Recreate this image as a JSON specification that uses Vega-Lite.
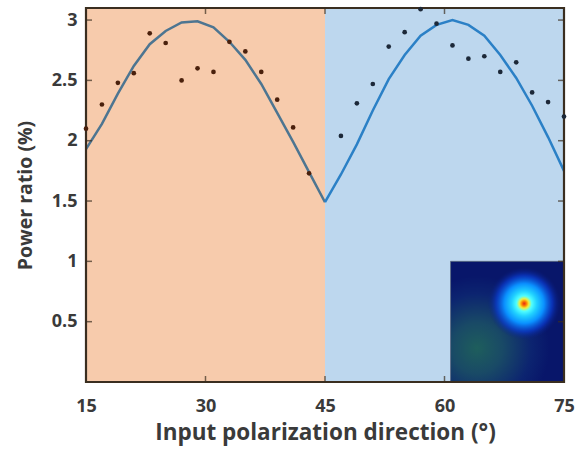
{
  "$schema": "https://vega.github.io/schema/vega-lite/v6.json",
  "width": 478,
  "height": 374,
  "autosize": {"type": "none"},
  "padding": {"left": 86, "top": 8, "right": 13, "bottom": 68},
  "background": "white",
  "config": {
    "view": {"stroke": null},
    "font": "Open Sans",
    "axis": {
      "labelFont": "Open Sans", "labelFontWeight": "bold", "labelFontSize": 18, "labelColor": "#3a3a3a",
      "titleFont": "Open Sans", "titleFontWeight": "bold", "titleFontSize": 19, "titleColor": "#3a3a3a",
      "domain": false, "ticks": false, "grid": false, "labelFlush": false, "labelOverlap": false
    }
  },
  "datasets": {
    "panels": [
      {"x1": 15, "x2": 45, "side": "A"},
      {"x1": 45, "x2": 75, "side": "B"}
    ],
    "fitA": [
      {"deg": 15, "val": 1.93}, {"deg": 17, "val": 2.14}, {"deg": 19, "val": 2.39}, {"deg": 21, "val": 2.62},
      {"deg": 23, "val": 2.80}, {"deg": 25, "val": 2.91}, {"deg": 27, "val": 2.98}, {"deg": 29, "val": 2.99},
      {"deg": 31, "val": 2.94}, {"deg": 33, "val": 2.82}, {"deg": 35, "val": 2.67}, {"deg": 37, "val": 2.47},
      {"deg": 39, "val": 2.23}, {"deg": 41, "val": 1.99}, {"deg": 43, "val": 1.74}, {"deg": 45, "val": 1.49}
    ],
    "fitB": [
      {"deg": 45, "val": 1.49}, {"deg": 47, "val": 1.72}, {"deg": 49, "val": 1.97}, {"deg": 51, "val": 2.25},
      {"deg": 53, "val": 2.51}, {"deg": 55, "val": 2.71}, {"deg": 57, "val": 2.87}, {"deg": 59, "val": 2.96},
      {"deg": 61, "val": 3.00}, {"deg": 63, "val": 2.96}, {"deg": 65, "val": 2.87}, {"deg": 67, "val": 2.71},
      {"deg": 69, "val": 2.52}, {"deg": 71, "val": 2.29}, {"deg": 73, "val": 2.03}, {"deg": 75, "val": 1.75}
    ],
    "dotsA": [
      {"deg": 15, "val": 2.10}, {"deg": 17, "val": 2.30}, {"deg": 19, "val": 2.48}, {"deg": 21, "val": 2.56},
      {"deg": 23, "val": 2.89}, {"deg": 25, "val": 2.81}, {"deg": 27, "val": 2.50}, {"deg": 29, "val": 2.60},
      {"deg": 31, "val": 2.57}, {"deg": 33, "val": 2.82}, {"deg": 35, "val": 2.74}, {"deg": 37, "val": 2.57},
      {"deg": 39, "val": 2.34}, {"deg": 41, "val": 2.11}, {"deg": 43, "val": 1.73}
    ],
    "dotsB": [
      {"deg": 47, "val": 2.04}, {"deg": 49, "val": 2.31}, {"deg": 51, "val": 2.47}, {"deg": 53, "val": 2.78},
      {"deg": 55, "val": 2.90}, {"deg": 57, "val": 3.09}, {"deg": 59, "val": 2.97}, {"deg": 61, "val": 2.79},
      {"deg": 63, "val": 2.68}, {"deg": 65, "val": 2.70}, {"deg": 67, "val": 2.57}, {"deg": 69, "val": 2.65},
      {"deg": 71, "val": 2.40}, {"deg": 73, "val": 2.32}, {"deg": 75, "val": 2.20}
    ],
    "inset": [
      {"x1": 60.76, "x2": 75, "y1": 0, "y2": 1.0}
    ],
    "frame": [
      {"x1": 15, "x2": 75, "y1": 0, "y2": 3.1}
    ],
    "xticks": [{"deg": 30}, {"deg": 45}, {"deg": 60}],
    "yticks": [{"val": 0.5}, {"val": 1}, {"val": 1.5}, {"val": 2}, {"val": 2.5}, {"val": 3}]
  },
  "layer": [
    {
      "data": {"name": "panels"},
      "mark": {"type": "rect"},
      "encoding": {
        "x": {"field": "x1", "type": "quantitative", "scale": {"domain": [15, 75], "nice": false, "zero": false},
              "axis": {"orient": "bottom", "values": [15, 30, 45, 60, 75], "title": "Input polarization direction (°)", "titleFontSize": 22.5, "labelPadding": 15, "titlePadding": 6}},
        "x2": {"field": "x2"},
        "y": {"datum": 0, "type": "quantitative", "scale": {"domain": [0, 3.1], "nice": false},
              "axis": {"orient": "left", "values": [0.5, 1, 1.5, 2, 2.5, 3], "format": "~g", "title": "Power ratio (%)", "titleFontSize": 19.5, "labelPadding": 9, "titlePadding": 16}},
        "y2": {"datum": 3.1},
        "color": {"field": "side", "type": "nominal", "scale": {"domain": ["A", "B"], "range": ["#f7cbac", "#bdd7ee"]}, "legend": null}
      }
    },
    {
      "data": {"name": "inset"},
      "mark": {"type": "rect", "stroke": "#5a6a80", "strokeWidth": 0.8,
        "fill": {"gradient": "radial", "x1": 0.25, "y1": 0.72, "r1": 0, "x2": 0.25, "y2": 0.72, "r2": 0.6,
          "stops": [{"offset": 0, "color": "#1e5e5c"}, {"offset": 0.35, "color": "#194a66"}, {"offset": 0.75, "color": "#0c2470"}, {"offset": 1, "color": "#08166a"}]}},
      "encoding": {
        "x": {"field": "x1", "type": "quantitative"},
        "x2": {"field": "x2"},
        "y": {"field": "y1", "type": "quantitative"},
        "y2": {"field": "y2"}
      }
    },
    {
      "data": {"name": "inset"},
      "mark": {"type": "rect",
        "fill": {"gradient": "radial", "x1": 0.64, "y1": 0.35, "r1": 0, "x2": 0.64, "y2": 0.35, "r2": 0.3,
          "stops": [{"offset": 0, "color": "#e0201a"}, {"offset": 0.07, "color": "#ff8a00"}, {"offset": 0.13, "color": "#f0f040"}, {"offset": 0.21, "color": "#50ffff"}, {"offset": 0.35, "color": "#20d0ff"}, {"offset": 0.55, "color": "#0a90ff"}, {"offset": 0.78, "color": "rgba(10,60,210,0.7)"}, {"offset": 1, "color": "rgba(10,30,130,0)"}]}},
      "encoding": {
        "x": {"field": "x1", "type": "quantitative"},
        "x2": {"field": "x2"},
        "y": {"field": "y1", "type": "quantitative"},
        "y2": {"field": "y2"}
      }
    },
    {
      "data": {"name": "fitA"},
      "mark": {"type": "line", "color": "#4d7591", "strokeWidth": 2.5},
      "encoding": {
        "x": {"field": "deg", "type": "quantitative"},
        "y": {"field": "val", "type": "quantitative"}
      }
    },
    {
      "data": {"name": "fitB"},
      "mark": {"type": "line", "color": "#2b80c6", "strokeWidth": 2.5},
      "encoding": {
        "x": {"field": "deg", "type": "quantitative"},
        "y": {"field": "val", "type": "quantitative"}
      }
    },
    {
      "data": {"name": "frame"},
      "mark": {"type": "rect", "fill": null, "stroke": "#3a2e20", "strokeWidth": 2.2},
      "encoding": {
        "x": {"field": "x1", "type": "quantitative"},
        "x2": {"field": "x2"},
        "y": {"field": "y1", "type": "quantitative"},
        "y2": {"field": "y2"}
      }
    },
    {
      "data": {"name": "xticks"},
      "mark": {"type": "tick", "orient": "vertical", "color": "#3a2e20", "size": 6, "thickness": 1.5, "yOffset": -3},
      "encoding": {
        "x": {"field": "deg", "type": "quantitative"},
        "y": {"datum": 0, "type": "quantitative"}
      }
    },
    {
      "data": {"name": "xticks"},
      "mark": {"type": "tick", "orient": "vertical", "color": "#3a2e20", "size": 6, "thickness": 1.5, "yOffset": 3},
      "encoding": {
        "x": {"field": "deg", "type": "quantitative"},
        "y": {"datum": 3.1, "type": "quantitative"}
      }
    },
    {
      "data": {"name": "yticks"},
      "mark": {"type": "tick", "orient": "horizontal", "color": "#3a2e20", "size": 6, "thickness": 1.5, "xOffset": 3},
      "encoding": {
        "y": {"field": "val", "type": "quantitative"},
        "x": {"datum": 15, "type": "quantitative"}
      }
    },
    {
      "data": {"name": "yticks"},
      "mark": {"type": "tick", "orient": "horizontal", "color": "#3a2e20", "size": 6, "thickness": 1.5, "xOffset": -3},
      "encoding": {
        "y": {"field": "val", "type": "quantitative"},
        "x": {"datum": 75, "type": "quantitative"}
      }
    },
    {
      "data": {"name": "dotsA"},
      "mark": {"type": "circle", "color": "#4a200c", "opacity": 1, "size": 22},
      "encoding": {
        "x": {"field": "deg", "type": "quantitative"},
        "y": {"field": "val", "type": "quantitative"}
      }
    },
    {
      "data": {"name": "dotsB"},
      "mark": {"type": "circle", "color": "#1c2838", "opacity": 1, "size": 22},
      "encoding": {
        "x": {"field": "deg", "type": "quantitative"},
        "y": {"field": "val", "type": "quantitative"}
      }
    }
  ]
}
